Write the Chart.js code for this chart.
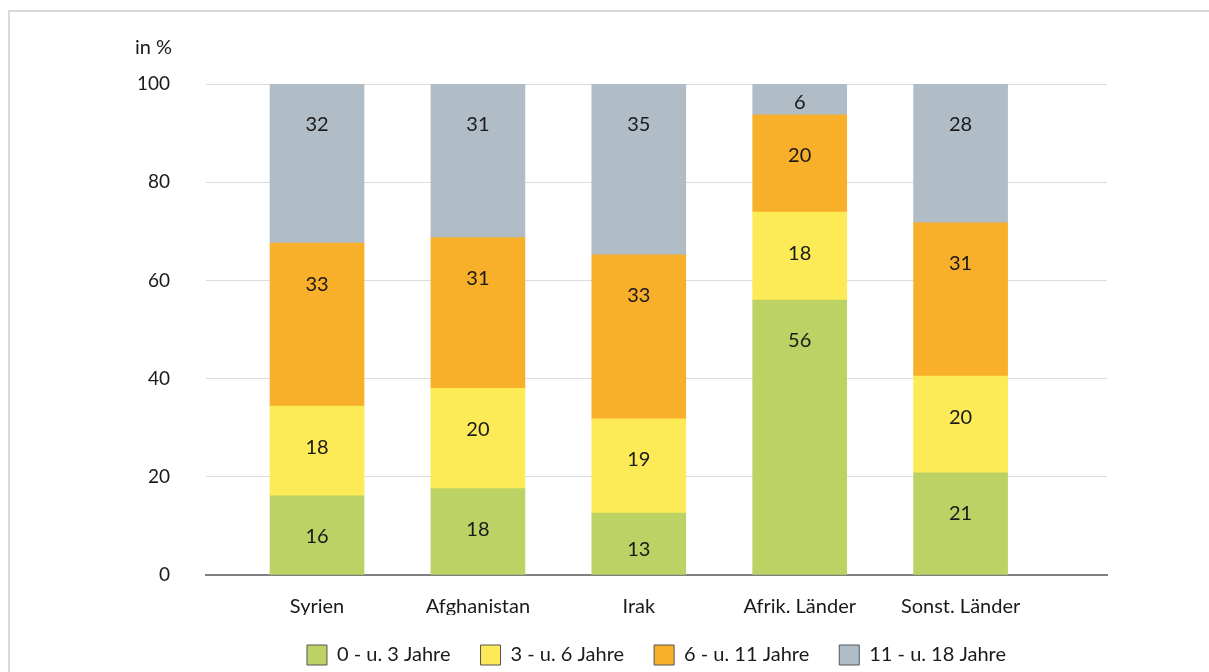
<!DOCTYPE html>
<html>
<head>
<meta charset="utf-8">
<script src="https://cdn.jsdelivr.net/npm/chart.js@4/dist/chart.umd.min.js"></script>
<style>
  html, body { margin: 0; padding: 0; background: #fff; overflow: hidden; }
  .frame { position: absolute; left: 8px; top: 10px; width: 1300px; height: 800px; border: 2px solid #d9d9d9; }
  #chart { position: absolute; left: 0; top: 0; }
</style>
</head>
<body>
<div class="frame"></div>
<canvas id="chart" width="1209" height="675"></canvas>
<script>
// categories and series (percent shares, labels show rounded values)
const countries = ["Syrien", "Afghanistan", "Irak", "Afrik. Länder", "Sonst. Länder"];
const ageGroups = ["0 - u. 3 Jahre", "3 - u. 6 Jahre", "6 - u. 11 Jahre", "11 - u. 18 Jahre"];
const age0to3 = [16.1, 17.6, 12.6, 56.0, 20.8];
const age3to6 = [18.3, 20.4, 19.2, 17.9, 19.7];
const age6to11 = [33.2, 30.7, 33.4, 19.8, 31.2];
const age11to18 = [32.4, 31.3, 34.8, 6.3, 28.3];
const yTicks = [0, 20, 40, 60, 80, 100];

const colors = ["#bcd264", "#fcea56", "#f8af29", "#b0bdc6"];
const series = [age0to3, age3to6, age6to11, age11to18];
const FONT = "Lato, sans-serif";

// draws the rounded value in every segment (near its top) + the "in %" note
const valueLabels = {
  id: "valueLabels",
  afterDatasetsDraw(chart) {
    const ctx = chart.ctx;
    ctx.save();
    ctx.font = "20px " + FONT;
    ctx.fillStyle = "#1a1a1a";
    ctx.textAlign = "center";
    ctx.textBaseline = "middle";
    chart.data.datasets.forEach((ds, i) => {
      const meta = chart.getDatasetMeta(i);
      meta.data.forEach((bar, j) => {
        const h = bar.base - bar.y;
        const y = bar.y + Math.min(41, h * 0.6);
        ctx.fillText(Math.round(ds.data[j].y), bar.x, y);
      });
    });
    ctx.textAlign = "right";
    ctx.fillText("in %", 172, 48);
    ctx.restore();
  }
};

new Chart(document.getElementById("chart"), {
  type: "bar",
  data: {
    datasets: ageGroups.map((name, i) => ({
      label: name,
      data: series[i].map((v, j) => ({ x: j, y: v })),
      backgroundColor: colors[i],
      borderWidth: 0,
      barThickness: 94,
    })),
  },
  options: {
    responsive: false,
    animation: false,
    layout: { padding: { left: 0, right: 102, top: 84, bottom: 0 } },
    scales: {
      x: {
        type: "linear",
        stacked: true,
        offset: false,
        min: -0.69,
        max: 4.91,
        afterBuildTicks: (axis) => { axis.ticks = countries.map((c, i) => ({ value: i })); },
        afterFit: (axis) => { axis.height = 40; },
        ticks: {
          callback: (v) => countries[v],
          font: { size: 20, family: FONT },
          color: "#1a1a1a",
          padding: 20,
          maxRotation: 0,
          autoSkip: false,
        },
        grid: { display: false, drawTicks: false },
        border: { display: true, color: "#808080", width: 2 },
      },
      y: {
        stacked: true,
        min: 0,
        max: 100,
        afterBuildTicks: (axis) => { axis.ticks = yTicks.map((v) => ({ value: v })); },
        afterFit: (axis) => { axis.width = 206; },
        ticks: {
          font: { size: 19, family: FONT },
          color: "#1a1a1a",
          padding: 36,
        },
        grid: { color: "#dcdcdc", lineWidth: 1, drawTicks: false },
        border: { display: false },
      },
    },
    plugins: {
      tooltip: { enabled: false },
      legend: {
        position: "bottom",
        fullSize: false,
        labels: {
          boxWidth: 20,
          boxHeight: 20,
          padding: 30,
          color: "#1a1a1a",
          font: { size: 20, family: FONT },
          generateLabels: (chart) =>
            Chart.defaults.plugins.legend.labels.generateLabels(chart).map((l) => ({
              ...l,
              strokeStyle: "#555",
              lineWidth: 1,
            })),
        },
      },
    },
  },
  plugins: [valueLabels],
});
</script>
</body>
</html>
